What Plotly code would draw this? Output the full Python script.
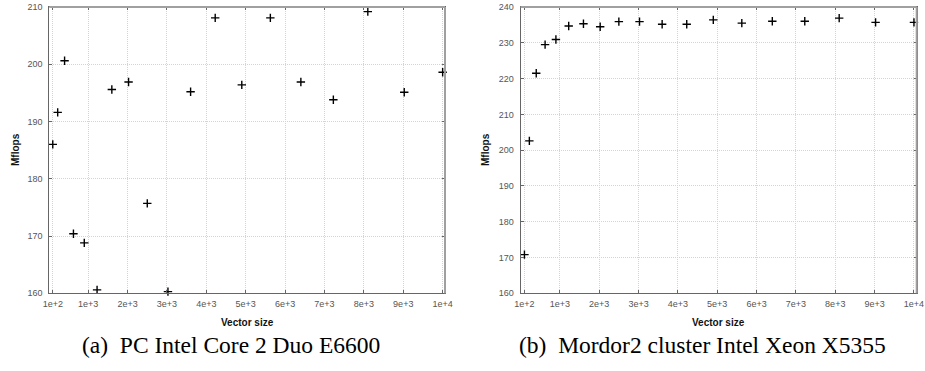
import plotly.graph_objects as go

W, H = 925, 371

# ---- data ----
vector_sizes = [100, 225, 400, 625, 900, 1225, 1600, 2025, 2500, 3025, 3600,
                4225, 4900, 5625, 6400, 7225, 8100, 9025, 10000]
mflops_pc = [186.0, 191.6, 200.6, 170.4, 168.8, 160.6, 195.6, 196.9, 175.7, 160.3,
             195.2, 208.1, 196.4, 208.1, 196.9, 193.8, 209.2, 195.1, 198.6]
mflops_xeon = [170.8, 202.6, 221.5, 229.5, 230.9, 234.7, 235.3, 234.5, 235.9, 235.9,
               235.2, 235.2, 236.4, 235.5, 236.0, 236.0, 236.9, 235.7, 235.7]
x_tickvals = [100, 1000, 2000, 3000, 4000, 5000, 6000, 7000, 8000, 9000, 10000]
x_ticktext = ["1e+2", "1e+3", "2e+3", "3e+3", "4e+3", "5e+3", "6e+3", "7e+3",
              "8e+3", "9e+3", "1e+4"]
captions = ["(a)&nbsp;&nbsp;PC Intel Core 2 Duo E6600",
            "(b)&nbsp;&nbsp;Mordor2 cluster Intel Xeon X5355"]

# ---- layout geometry (pixels) ----
px_left = [(49.3, 445.0), (520.7, 916.7)]
py_top, py_bot = 7.0, 293.3


def fx(p):
    return p / W


def fy(p):
    return (H - p) / H


fig = go.Figure()
marker = dict(symbol="cross-thin", size=6, line=dict(width=1.4, color="#000000"), color="#000000")
fig.add_trace(go.Scatter(x=vector_sizes, y=mflops_pc, mode="markers", marker=marker,
                         xaxis="x", yaxis="y", cliponaxis=False, showlegend=False))
fig.add_trace(go.Scatter(x=vector_sizes, y=mflops_xeon, mode="markers", marker=marker,
                         xaxis="x2", yaxis="y2", cliponaxis=False, showlegend=False))

tickfont = dict(family="Liberation Sans, Arial, sans-serif", size=9, color="#555555")
grid = dict(showgrid=True, gridcolor="#d4d4d4", griddash="1px,1px", gridwidth=1)
common_x = dict(tickmode="array", tickvals=x_tickvals, ticktext=x_ticktext,
                showline=True, linecolor="#666666", linewidth=1, mirror="allticks",
                ticks="inside", ticklen=3, tickcolor="#666666",
                zeroline=False, tickfont=tickfont, ticklabelstandoff=2,
                automargin=False, **grid)
common_y = dict(dtick=10, showline=True, linecolor="#666666", linewidth=1, mirror="allticks",
                ticks="inside", ticklen=3, tickcolor="#666666",
                zeroline=False, tickfont=tickfont, ticklabelstandoff=4,
                automargin=False, **grid)

ydom = [fy(py_bot), fy(py_top)]
fig.update_layout(
    width=W, height=H, margin=dict(l=0, r=0, t=0, b=0, autoexpand=False),
    paper_bgcolor="white", plot_bgcolor="white",
    xaxis=dict(domain=[fx(px_left[0][0]), fx(px_left[0][1])], range=[12, 10060],
               anchor="y", **common_x),
    yaxis=dict(domain=ydom, range=[160, 210], anchor="x", **common_y),
    xaxis2=dict(domain=[fx(px_left[1][0]), fx(px_left[1][1])], range=[5, 10070],
                anchor="y2", **common_x),
    yaxis2=dict(domain=ydom, range=[160, 240], anchor="x2", **common_y),
)

shapes = []
for (l, r) in px_left:
    shapes.append(dict(type="line", xref="paper", yref="paper", x0=fx(l), x1=fx(r),
                       y0=fy(py_top), y1=fy(py_top), line=dict(color="#a0a0a0", width=2)))
    shapes.append(dict(type="line", xref="paper", yref="paper", x0=fx(r), x1=fx(r),
                       y0=fy(py_top), y1=fy(py_bot), line=dict(color="#a0a0a0", width=2)))
fig.update_layout(shapes=shapes)

bold = dict(family="Liberation Sans, Arial, sans-serif", size=10, color="#111111")
annotations = []
for i, (ylab_x, xlab_x, cap_x) in enumerate([(15, 247, 231), (485, 718, 702)]):
    annotations.append(dict(text="<b>Mflops</b>", x=fx(ylab_x), y=fy(150), xref="paper", yref="paper",
                            showarrow=False, textangle=-90, font=bold, xanchor="center", yanchor="middle"))
    annotations.append(dict(text="<b>Vector size</b>", x=fx(xlab_x), y=fy(322), xref="paper", yref="paper",
                            showarrow=False, font=bold, xanchor="center", yanchor="middle"))
    annotations.append(dict(text=captions[i], x=fx(cap_x), y=fy(345), xref="paper", yref="paper",
                            showarrow=False, xanchor="center", yanchor="middle",
                            font=dict(family="Liberation Serif, Times New Roman, serif", size=23.5, color="#000000")))
fig.update_layout(annotations=annotations)

fig.write_html("out.html")
